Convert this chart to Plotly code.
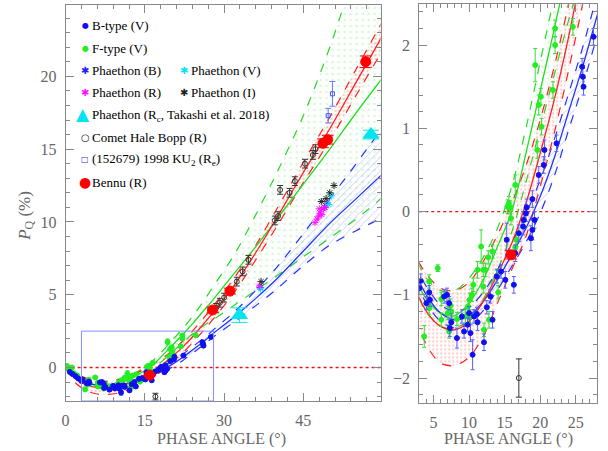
import plotly.graph_objects as go

# ---------------- model curves ----------------
X_FIT = [0, 2, 4, 6, 8, 10, 12, 14, 16, 18, 20, 22, 24, 26, 28, 32, 36, 40, 45, 50, 55, 60]

RED_C = [0, -0.8, -1.2, -1.38, -1.42, -1.32, -1.08, -0.75, -0.38, 0.1, 0.7, 1.35, 2.1, 2.95, 3.8, 5.7, 7.9, 10.3, 13.4, 16.4, 19.6, 22.8]
RED_HI = [0, -0.45, -0.75, -0.92, -0.95, -0.85, -0.6, -0.28, 0.1, 0.55, 1.1, 1.75, 2.5, 3.35, 4.25, 6.2, 8.4, 10.9, 14.1, 17.2, 20.5, 23.8]
RED_LO = [0, -1.1, -1.6, -1.82, -1.85, -1.75, -1.5, -1.1, -0.7, -0.3, 0.3, 0.95, 1.7, 2.5, 3.35, 5.2, 7.4, 9.7, 12.7, 15.6, 18.7, 21.8]

GRN_C = [0, -0.7, -1.05, -1.22, -1.25, -1.1, -0.82, -0.42, 0.0, 0.7, 1.45, 2.2, 3.0, 3.85, 4.7, 6.5, 8.3, 10.2, 12.6, 15.0, 17.5, 19.9]
GRN_HI = [0, -0.45, -0.8, -0.95, -0.95, -0.8, -0.55, -0.2, 0.3, 1.0, 1.8, 2.6, 3.5, 4.5, 5.6, 7.8, 10.5, 13.4, 17.3, 22.0, 27.5, 33.0]
GRN_LO = [0, -0.85, -1.2, -1.38, -1.4, -1.3, -1.05, -0.7, -0.25, 0.35, 1.0, 1.65, 2.3, 2.85, 3.3, 4.3, 5.3, 6.3, 7.6, 8.9, 10.2, 11.7]

BLU_C = [0, -0.65, -1.0, -1.22, -1.3, -1.25, -1.08, -0.82, -0.52, -0.2, 0.18, 0.65, 1.2, 1.75, 2.35, 3.5, 4.75, 6.1, 8.0, 9.9, 11.6, 13.3]
BLU_HI = [0, -0.55, -0.9, -1.12, -1.2, -1.15, -0.97, -0.7, -0.38, -0.03, 0.38, 0.87, 1.42, 1.98, 2.6, 3.85, 5.3, 6.9, 9.2, 11.6, 14.0, 16.5]
BLU_LO = [0, -0.75, -1.1, -1.32, -1.4, -1.35, -1.19, -0.94, -0.66, -0.37, -0.02, 0.43, 0.98, 1.52, 2.1, 3.15, 4.25, 5.4, 7.0, 8.4, 9.4, 10.3]

# ---------------- observations ----------------
BT_X = [0.8, 1.3, 1.9, 2.4, 3.0, 3.2, 4.0, 4.4, 4.5, 6.5, 6.9, 7.2, 7.5, 7.3, 8.3, 9.0, 9.3, 9.8, 10.0, 10.2,
        10.5, 10.7, 11.1, 11.2, 12.1, 12.5, 13.3, 13.0, 13.9, 14.5, 15.1, 15.3, 16.3, 16.5, 17.0, 17.6, 17.7, 18.0,
        18.1, 18.7, 18.9, 19.2, 18.9, 19.8, 20.5, 20.6, 22.3, 25.9, 26.0, 26.1, 27.5]
BT_Y = [-0.3, -0.45, -0.6, -0.75, -0.92, -0.83, -1.1, -0.97, -1.06, -1.02, -1.0, -1.1, -1.33, -1.4, -1.52, -1.26,
        -1.44, -1.36, -1.22, -1.46, -1.72, -1.26, -1.23, -1.33, -1.57, -1.15, -1.3, -1.02, -0.78, -0.72, -0.82, -0.34,
        -0.88, -0.5, -0.26, -0.18, -0.1, -0.02, 0.05, -0.32, -0.22, -0.1, 0.15, 0.44, 0.56, 0.74, 0.82, 1.74, 1.62,
        1.5, 2.1]
BT_E = [0.08, 0.08, 0.08, 0.08, 0.08, 0.08, 0.08, 0.08, 0.08, 0.08, 0.08, 0.08, 0.1, 0.1, 0.12, 0.08, 0.08, 0.08,
        0.08, 0.1, 0.18, 0.08, 0.08, 0.1, 0.1, 0.08, 0.1, 0.08, 0.08, 0.08, 0.1, 0.2, 0.1, 0.1, 0.1, 0.1, 0.1, 0.1,
        0.1, 0.15, 0.12, 0.1, 0.1, 0.1, 0.1, 0.12, 0.1, 0.1, 0.1, 0.1, 0.1]

GT_X = [0.3, 0.5, 0.9, 1.2, 1.6, 2.2, 3.7, 4.4, 4.4, 5.6, 6.1, 6.1, 7.0, 7.2, 7.4, 7.5, 8.3, 9.5, 9.85, 10.1,
        10.4, 10.6, 10.2, 11.2, 11.7, 12.0, 12.0, 12.3, 12.1, 12.8, 12.7, 13.3, 13.9, 14.1, 15.4, 15.6, 15.8, 15.9,
        16.5, 16.7, 16.5, 19.3, 19.6, 19.8, 20.1, 20.2, 21.8, 22.1, 22.1, 24.6]
GT_Y = [0.1, -0.1, -0.3, 0.0, -0.4, -0.55, -1.5, -0.84, -1.16, -0.68, -1.05, -1.3, -1.22, -1.44, -1.13, -1.2,
        -1.29, -1.26, -1.14, -1.06, -1.0, -0.88, -1.26, -0.7, -0.42, -0.7, -0.9, -0.7, -1.42, -1.3, -0.55, -0.48,
        -0.77, -0.97, 0.06, 0.1, 0.05, -0.08, 0.32, -0.34, -0.43, 1.76, 0.74, 1.28, 1.38, 1.02, 1.46, 2.0, 2.2, 2.22]
GT_E = [0.1, 0.1, 0.1, 0.1, 0.1, 0.1, 0.13, 0.08, 0.08, 0.04, 0.08, 0.08, 0.08, 0.08, 0.08, 0.08, 0.08, 0.08,
        0.08, 0.08, 0.08, 0.08, 0.08, 0.1, 0.2, 0.08, 0.08, 0.08, 0.08, 0.1, 0.08, 0.08, 0.08, 0.08, 0.08, 0.08,
        0.08, 0.08, 0.12, 0.08, 0.08, 0.2, 0.1, 0.12, 0.1, 0.1, 0.1, 0.1, 0.1, 0.1]

BENNU_X = [15.9, 27.8, 31.1, 48.7, 49.6, 56.8]
BENNU_Y = [-0.52, 3.95, 5.25, 15.4, 15.65, 21.0]
BENNU_E = [0.05, 0.2, 0.2, 0.3, 0.3, 0.4]

HB_X = [17.0, 28.5, 29.2, 30.0, 32.4, 33.5, 34.6, 39.6, 40.2, 40.6, 42.4, 43.4, 45.3, 46.8, 47.3]
HB_Y = [-2.0, 4.1, 4.45, 4.8, 5.9, 6.6, 7.4, 10.1, 10.4, 12.2, 12.0, 12.8, 14.0, 14.6, 15.0]
HB_E = [0.23, 0.3, 0.3, 0.3, 0.3, 0.3, 0.3, 0.3, 0.3, 0.3, 0.3, 0.3, 0.3, 0.3, 0.3]

KU_X = [49.7, 50.5]
KU_Y = [17.3, 18.8]
KU_E = [0.5, 0.85]

TAK_X = [32.9, 57.8]
TAK_Y = [3.6, 16.0]
TAK_E = [0.5, 0.3]

PH_B_X = [36.8, 49.0, 49.5]
PH_B_Y = [5.5, 11.0, 11.3]
PH_V_X = [36.9, 50.3, 49.8]
PH_V_Y = [5.4, 11.8, 11.2]
PH_R_X = [36.7, 47.2, 47.6, 47.9, 48.2, 48.5, 48.8, 49.1, 48.0]
PH_R_Y = [5.6, 9.95, 10.2, 10.4, 10.6, 10.5, 10.9, 11.0, 10.9]
PH_I_X = [37.0, 48.4, 49.3, 50.0, 50.8]
PH_I_Y = [5.9, 11.4, 11.6, 12.0, 12.5]

MAIN_XR = [0, 59.6]
MAIN_YR = [-2.3, 24.9]
ZOOM_XR = [3, 28]
ZOOM_YR = [-2.3, 2.5]

fig = go.Figure()
AXES = [("x", "y"), ("x2", "y2")]


def line(y, color, dash, width, xa, ya, fill=None, pat=None):
    kw = {}
    if fill:
        kw = dict(fill="tonexty", fillcolor="rgba(0,0,0,0)",
                  fillpattern=dict(shape=pat[0], fgcolor=pat[1], bgcolor="rgba(0,0,0,0)",
                                   size=pat[2], solidity=pat[3]))
    fig.add_trace(go.Scatter(x=X_FIT, y=y, mode="lines",
                             line=dict(color=color, dash=dash, width=width, shape="spline", smoothing=0.9),
                             xaxis=xa, yaxis=ya, hoverinfo="skip", showlegend=False, **kw))


def pts(x, y, xa, ya, symbol, color, size, err=None, ecolor=None, ewidth=2, lw=1):
    kw = {}
    if err is not None:
        kw["error_y"] = dict(type="data", array=err, color=ecolor or color, thickness=1, width=ewidth)
    fig.add_trace(go.Scatter(x=x, y=y, mode="markers",
                             marker=dict(symbol=symbol, color=color, size=size, line=dict(color=color, width=lw)),
                             xaxis=xa, yaxis=ya, hoverinfo="skip", showlegend=False, **kw))


for xa, ya in AXES:
    # green fan
    line(GRN_LO, "#22dd22", "dash", 1.2, xa, ya)
    line(GRN_HI, "#22dd22", "dash", 1.2, xa, ya, fill=True, pat=(".", "rgba(60,220,60,0.4)", 6, 0.15))
    # blue band
    line(BLU_LO, "#2233ff", "dash", 1.2, xa, ya)
    line(BLU_HI, "#2233ff", "dash", 1.2, xa, ya, fill=True, pat=("/", "rgba(40,50,255,0.6)", 5, 0.15))
    # red band
    line(RED_LO, "#ff2020", "dash", 1.2, xa, ya)
    line(RED_HI, "#ff2020", "dash", 1.2, xa, ya, fill=True, pat=(".", "rgba(255,40,40,0.5)", 4, 0.25))
    # centres
    line(GRN_C, "#22dd22", "solid", 1.3, xa, ya)
    line(BLU_C, "#2233ff", "solid", 1.3, xa, ya)
    line(RED_C, "#ff2020", "solid", 1.3, xa, ya)

    pts(GT_X, GT_Y, xa, ya, "circle", "#22ee22", 5, GT_E, "#33dd33")
    pts(BT_X, BT_Y, xa, ya, "circle", "#1010ee", 5, BT_E, "#5560ff")
    pts(HB_X, HB_Y, xa, ya, "circle-open", "#333333", 5, HB_E, "#333333", 3)
    pts(KU_X, KU_Y, xa, ya, "square-open", "#4455ee", 4, KU_E, "#6677ff", 3)
    pts(TAK_X, TAK_Y, xa, ya, "triangle-up", "#00e5ee", 14, TAK_E, "#00e5ee", 8)
    pts(PH_B_X, PH_B_Y, xa, ya, "asterisk-open", "#2020ff", 6)
    pts(PH_V_X, PH_V_Y, xa, ya, "asterisk-open", "#00e5ee", 6)
    pts(PH_R_X, PH_R_Y, xa, ya, "asterisk-open", "#ff10ff", 6)
    pts(PH_I_X, PH_I_Y, xa, ya, "asterisk-open", "#222222", 6)
    pts(BENNU_X, BENNU_Y, xa, ya, "circle", "#ff0000", 10, BENNU_E, "#ff0000", 6)

TICKFONT = dict(family="Liberation Serif", size=16, color="#666666")


def axis(rng, domain, dtick, minor, anchor, tick0=0):
    return dict(range=rng, domain=domain, anchor=anchor, showline=True, mirror="ticks",
                linecolor="#888888", linewidth=1, ticks="inside", ticklen=8, tickcolor="#888888",
                tick0=tick0, dtick=dtick,
                minor=dict(dtick=minor, ticks="inside", ticklen=4, tickcolor="#888888"),
                showgrid=False, zeroline=False, tickfont=TICKFONT, ticklabelstandoff=5)


fig.update_layout(
    width=608, height=451, margin=dict(l=0, r=0, t=0, b=0),
    paper_bgcolor="white", plot_bgcolor="white", showlegend=False,
    xaxis=axis(MAIN_XR, [62 / 608, 379 / 608], 15, 3, "y"),
    yaxis=axis(MAIN_YR, [1 - 401 / 451, 1 - 5 / 451], 5, 1, "x"),
    xaxis2=axis(ZOOM_XR, [418 / 608, 597 / 608], 5, 1, "y2"),
    yaxis2=axis(ZOOM_YR, [1 - 403 / 451, 1 - 3.5 / 451], 1, 0.2, "x2"),
)

shapes = []
for xr, yr in [("x domain", "y"), ("x2 domain", "y2")]:
    shapes.append(dict(type="line", xref=xr, yref=yr, x0=0, x1=1, y0=0, y1=0,
                       line=dict(color="#ee1111", dash="dot", width=1.3), layer="below"))
shapes.append(dict(type="rect", xref="x", yref="y", x0=ZOOM_XR[0], x1=ZOOM_XR[1], y0=ZOOM_YR[0], y1=ZOOM_YR[1],
                   line=dict(color="#8090ff", width=1)))
fig.update_layout(shapes=shapes)

ann = []


def a(text, px, py, size, color, family="Liberation Serif", xanchor="left", angle=0):
    ann.append(dict(text=text, x=px / 608, y=1 - py / 451, xref="paper", yref="paper", showarrow=False,
                    xanchor=xanchor, yanchor="middle", textangle=angle,
                    font=dict(family=family, size=size, color=color)))


SYM = "DejaVu Sans"
a("●", 81.7, 26, 8, "#1010ee", SYM, "center")
a("●", 81.7, 48.3, 8, "#22ee22", SYM, "center")
a("✱", 81.7, 70.7, 10, "#2020ff", SYM, "center")
a("✱", 180.7, 70.7, 10, "#00e5ee", SYM, "center")
a("✱", 81.7, 92.7, 10, "#ff10ff", SYM, "center")
a("✱", 180.7, 92.7, 10, "#222222", SYM, "center")
a("▲", 80, 114, 17, "#00e5ee", SYM, "center")
a("○", 81.7, 137.3, 10, "#222222", SYM, "center")
a("□", 81.7, 159.3, 8, "#2233ee", SYM, "center")
a("●", 81.7, 182.3, 14, "#ff0000", SYM, "center")

LF = 13
a("B-type (V)", 87, 26, LF, "black")
a("F-type (V)", 87, 48.3, LF, "black")
a("Phaethon (B)", 87, 70.7, LF, "black")
a("Phaethon (V)", 186.7, 70.7, LF, "black")
a("Phaethon (R)", 87, 92.7, LF, "black")
a("Phaethon (I)", 186.7, 92.7, LF, "black")
a("Phaethon (R<sub>c</sub>, Takashi et al. 2018)", 87, 115, LF, "black")
a("Comet Hale Bopp (R)", 87, 137.3, LF, "black")
a("(152679) 1998 KU<sub>2</sub> (R<sub>e</sub>)", 87, 159.3, LF, "black")
a("Bennu (R)", 87, 182.3, LF, "black")

a("PHASE ANGLE (°)", 219, 439, 16, "#666666", "Liberation Serif", "center")
a("PHASE ANGLE (°)", 508, 439, 16, "#666666", "Liberation Serif", "center")
a("<i>P</i><sub>Q</sub> (%)", 22, 216, 17, "#666666", "Liberation Serif", "center", -90)
fig.update_layout(annotations=ann)

fig.write_html("out.html", config={"displayModeBar": False},
               post_script="document.body.style.margin='0px';")
